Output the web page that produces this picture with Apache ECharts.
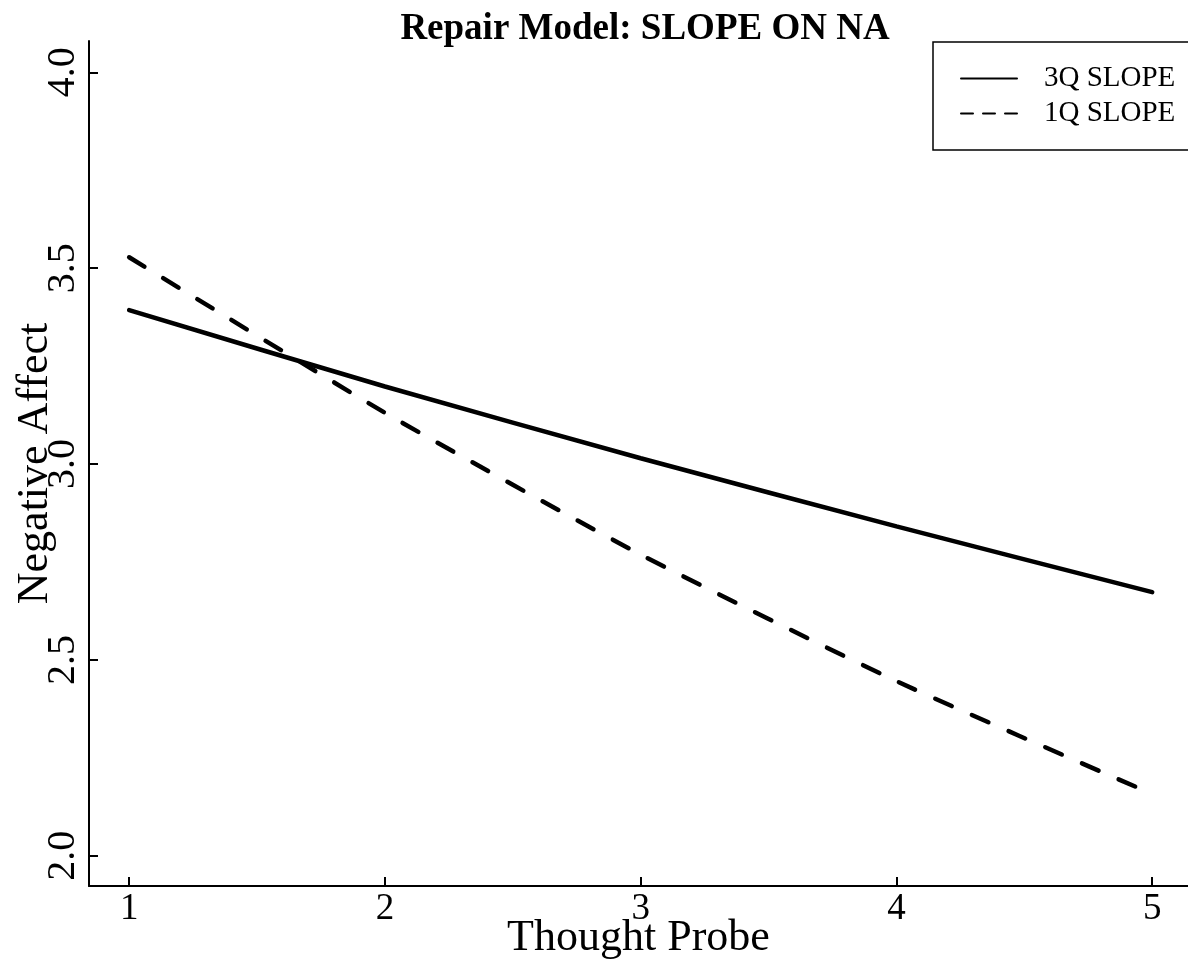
<!DOCTYPE html>
<html>
<head>
<meta charset="utf-8">
<script src="https://cdn.jsdelivr.net/npm/echarts@6/dist/echarts.min.js"></script>
<style>
  html, body { margin: 0; padding: 0; background: #fff; }
  #main { width: 1188px; height: 963px; }
</style>
</head>
<body>
<div id="main"></div>
<script>
// data
var probes = [1, 2, 3, 4, 5];
var slope3Q = [3.393, 3.198, 3.015, 2.841, 2.673];
var slope1Q = [3.528, 3.131, 2.769, 2.446, 2.158];
var yTicks = [2.0, 2.5, 3.0, 3.5, 4.0];
var xTicks = [1, 2, 3, 4, 5];

var font = '"Liberation Serif", "DejaVu Serif", serif';

function pairs(xs, ys) {
    return xs.map(function (x, i) { return [x, ys[i]]; });
}

var chart = echarts.init(document.getElementById('main'));

var option = {
    backgroundColor: '#fff',
    animation: false,
    title: {
        text: 'Repair Model: SLOPE ON NA',
        left: 640,
        top: 6,
        textAlign: 'center',
        textStyle: {
            fontFamily: font,
            fontWeight: 'bold',
            fontSize: 37,
            color: '#000'
        }
    },
    legend: {
        orient: 'vertical',
        left: 933,
        top: 42,
        align: 'left',
        padding: [22, 60, 22, 27],
        borderColor: '#000',
        borderWidth: 1.5,
        itemWidth: 56,
        itemHeight: 20,
        itemGap: 6,
        selectedMode: false,
        itemStyle: { opacity: 0 },
        lineStyle: { width: 2 },
        textStyle: {
            fontFamily: font,
            fontSize: 29,
            color: '#000',
            padding: [0, 0, 0, 22]
        },
        data: [
            { name: '3Q SLOPE' },
            { name: '1Q SLOPE', lineStyle: { type: [12, 10], width: 2 } }
        ]
    },
    grid: {
        left: 89,
        right: 0,
        top: 41,
        bottom: 77,
        containLabel: false,
        outerBoundsMode: 'none'
    },
    xAxis: {
        type: 'value',
        min: 0.843,
        max: 5.14,
        name: 'Thought Probe',
        nameLocation: 'middle',
        nameGap: 30,
        nameMoveOverlap: false,
        nameTextStyle: { fontFamily: font, fontSize: 44, color: '#000' },
        axisLine: { show: true, lineStyle: { color: '#000', width: 2 } },
        axisTick: { show: true, inside: true, length: 9, customValues: xTicks, lineStyle: { color: '#000', width: 2 } },
        axisLabel: { customValues: xTicks, fontFamily: font, fontSize: 37, color: '#000', margin: 5 },
        splitLine: { show: false }
    },
    yAxis: {
        type: 'value',
        min: 1.923,
        max: 4.08,
        name: 'Negative Affect',
        nameLocation: 'middle',
        nameRotate: 90,
        nameGap: 32,
        nameMoveOverlap: false,
        nameTextStyle: { fontFamily: font, fontSize: 44, color: '#000' },
        axisLine: { show: true, lineStyle: { color: '#000', width: 2 } },
        axisTick: { show: true, inside: true, length: 9, customValues: yTicks, lineStyle: { color: '#000', width: 2 } },
        axisLabel: {
            customValues: yTicks,
            rotate: 90,
            fontFamily: font,
            fontSize: 40,
            color: '#000',
            margin: 6,
            formatter: function (v) { return v.toFixed(1); }
        },
        splitLine: { show: false }
    },
    series: [
        {
            name: '3Q SLOPE',
            type: 'line',
            symbol: 'none',
            smooth: 0.2,
            data: pairs(probes, slope3Q),
            lineStyle: { color: '#000', width: 4.5, cap: 'round' },
            itemStyle: { color: '#000' }
        },
        {
            name: '1Q SLOPE',
            type: 'line',
            symbol: 'none',
            smooth: 0.2,
            data: pairs(probes, slope1Q),
            lineStyle: { color: '#000', width: 4.5, type: [18, 22], cap: 'round' },
            itemStyle: { color: '#000' }
        }
    ]
};

chart.setOption(option);
</script>
</body>
</html>
